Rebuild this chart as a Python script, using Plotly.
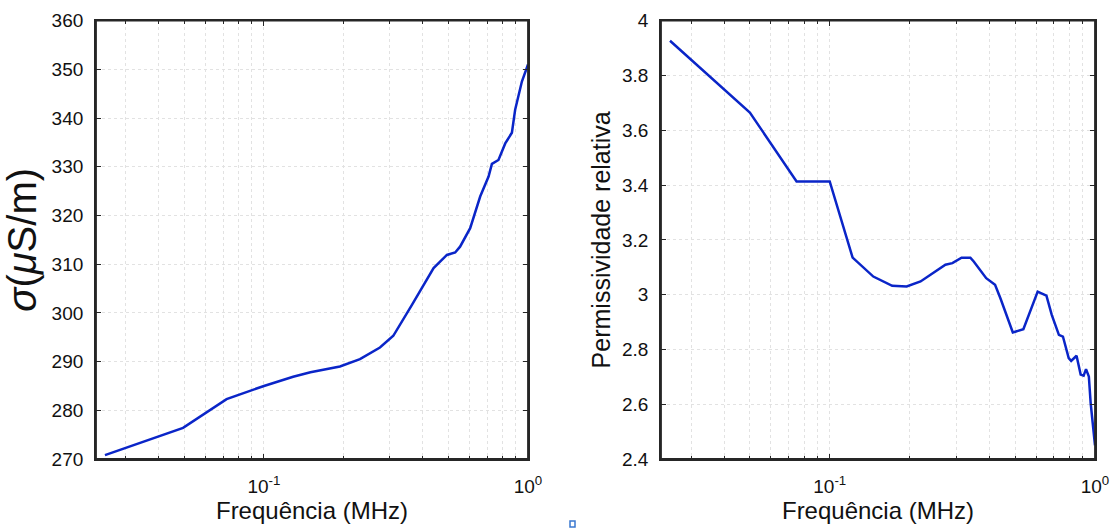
import plotly.graph_objects as go

# ---- data ----
freq_sigma = [0.025, 0.0494, 0.0722, 0.1, 0.129, 0.15, 0.194, 0.231, 0.275, 0.309,
              0.363, 0.40, 0.439, 0.493, 0.530, 0.553, 0.604, 0.659, 0.709, 0.730,
              0.773, 0.820, 0.869, 0.894, 0.948, 1.0]
sigma = [270.8, 276.4, 282.3, 285.0, 286.9, 287.8, 289.0, 290.5, 292.9, 295.3,
         301.6, 305.6, 309.2, 311.9, 312.4, 313.6, 317.4, 323.9, 328.0, 330.6,
         331.4, 334.8, 337.0, 341.7, 347.5, 351.0]

freq_perm = [0.025, 0.05, 0.075, 0.1, 0.122, 0.146, 0.172, 0.195, 0.22, 0.249,
             0.273, 0.29, 0.314, 0.339, 0.349, 0.389, 0.42, 0.44, 0.49, 0.537,
             0.608, 0.656, 0.687, 0.731, 0.757, 0.796, 0.813, 0.852, 0.883, 0.906,
             0.925, 0.948, 0.963, 1.0]
perm = [3.927, 3.665, 3.413, 3.413, 3.135, 3.066, 3.032, 3.030, 3.048, 3.084,
        3.109, 3.115, 3.135, 3.135, 3.121, 3.060, 3.036, 2.987, 2.862, 2.874,
        3.011, 2.996, 2.926, 2.853, 2.847, 2.768, 2.758, 2.777, 2.708, 2.704,
        2.728, 2.701, 2.604, 2.45]

x_major = [0.1, 1.0]
x_major_text = ["10<sup>-1</sup>", "10<sup>0</sup>"]
x_minor = [0.03, 0.04, 0.05, 0.06, 0.07, 0.08, 0.09,
           0.2, 0.3, 0.4, 0.5, 0.6, 0.7, 0.8, 0.9]

W, H = 1111, 529
FONT = "Liberation Sans, Arial, sans-serif"
LINE = "#0a25c8"
AX = "#262626"
GRID = "#e2e2e2"

fig = go.Figure()
fig.add_trace(go.Scatter(x=freq_sigma, y=sigma, mode="lines", xaxis="x", yaxis="y",
                         line=dict(color=LINE, width=2.5), showlegend=False))
fig.add_trace(go.Scatter(x=freq_perm, y=perm, mode="lines", xaxis="x2", yaxis="y2",
                         line=dict(color=LINE, width=2.5), showlegend=False))

def xaxis(domain, anchor):
    return dict(
        type="log", range=[-1.636, 0], domain=domain, anchor=anchor, automargin=False,
        tickvals=x_major, ticktext=x_major_text, ticks="inside", ticklen=5,
        tickcolor=AX, tickwidth=1.2, showline=True, linecolor=AX, linewidth=1.8,
        mirror="ticks", showgrid=True, gridcolor=GRID, griddash="dot",
        gridwidth=1, zeroline=False, ticklabelstandoff=9, ticklabeloverflow="allow",
        tickfont=dict(family=FONT, size=19, color="#111"),
        minor=dict(tickvals=x_minor, ticks="inside", ticklen=3, tickcolor=AX,
                   showgrid=True, gridcolor=GRID, griddash="dot", gridwidth=1),
        title=dict(text="Frequência (MHz)", standoff=6,
                   font=dict(family=FONT, size=24, color="#111")),
    )

def yaxis(domain, anchor, rng, dtick, title, tsize, standoff):
    return dict(
        range=rng, dtick=dtick, domain=domain, anchor=anchor, automargin=False,
        ticks="inside", ticklen=5, tickcolor=AX, tickwidth=1.2,
        showline=True, linecolor=AX, linewidth=1.8, mirror="ticks",
        showgrid=True, gridcolor=GRID, griddash="dot", gridwidth=1,
        zeroline=False, ticklabelstandoff=7, ticklabeloverflow="allow",
        tickfont=dict(family=FONT, size=19, color="#111"),
        title=dict(text=title, standoff=standoff,
                   font=dict(family=FONT, size=tsize, color="#111")),
    )

ydom = [1 - 459 / H, 1 - 20.7 / H]
frames = [dict(type="rect", xref="paper", yref="paper",
               x0=d[0], x1=d[1], y0=ydom[0], y1=ydom[1],
               line=dict(color=AX, width=1.8), layer="above")
          for d in ([96 / W, 528 / W], [661 / W, 1095 / W])]
fig.update_layout(
    width=W, height=H, margin=dict(l=0, r=0, t=0, b=0),
    paper_bgcolor="white", plot_bgcolor="white",
    xaxis=xaxis([96 / W, 528 / W], "y"),
    yaxis=yaxis(ydom, "x", [270, 360], 10,
                "<i>σ</i>(<i>μ</i>S/m)", 40, 8),
    xaxis2=xaxis([661 / W, 1095 / W], "y2"),
    yaxis2=yaxis(ydom, "x2", [2.4, 4], 0.2, "Permissividade relativa", 25, 4),
    shapes=frames + [dict(type="rect", xref="paper", yref="paper",
                 x0=570 / W, x1=575 / W, y0=1 - 527 / H, y1=1 - 521 / H,
                 line=dict(color="#3a78d0", width=1.5), fillcolor="white")],
)

fig.write_html("out.html",
               post_script="document.body.style.margin='0';document.body.style.overflow='hidden';")
